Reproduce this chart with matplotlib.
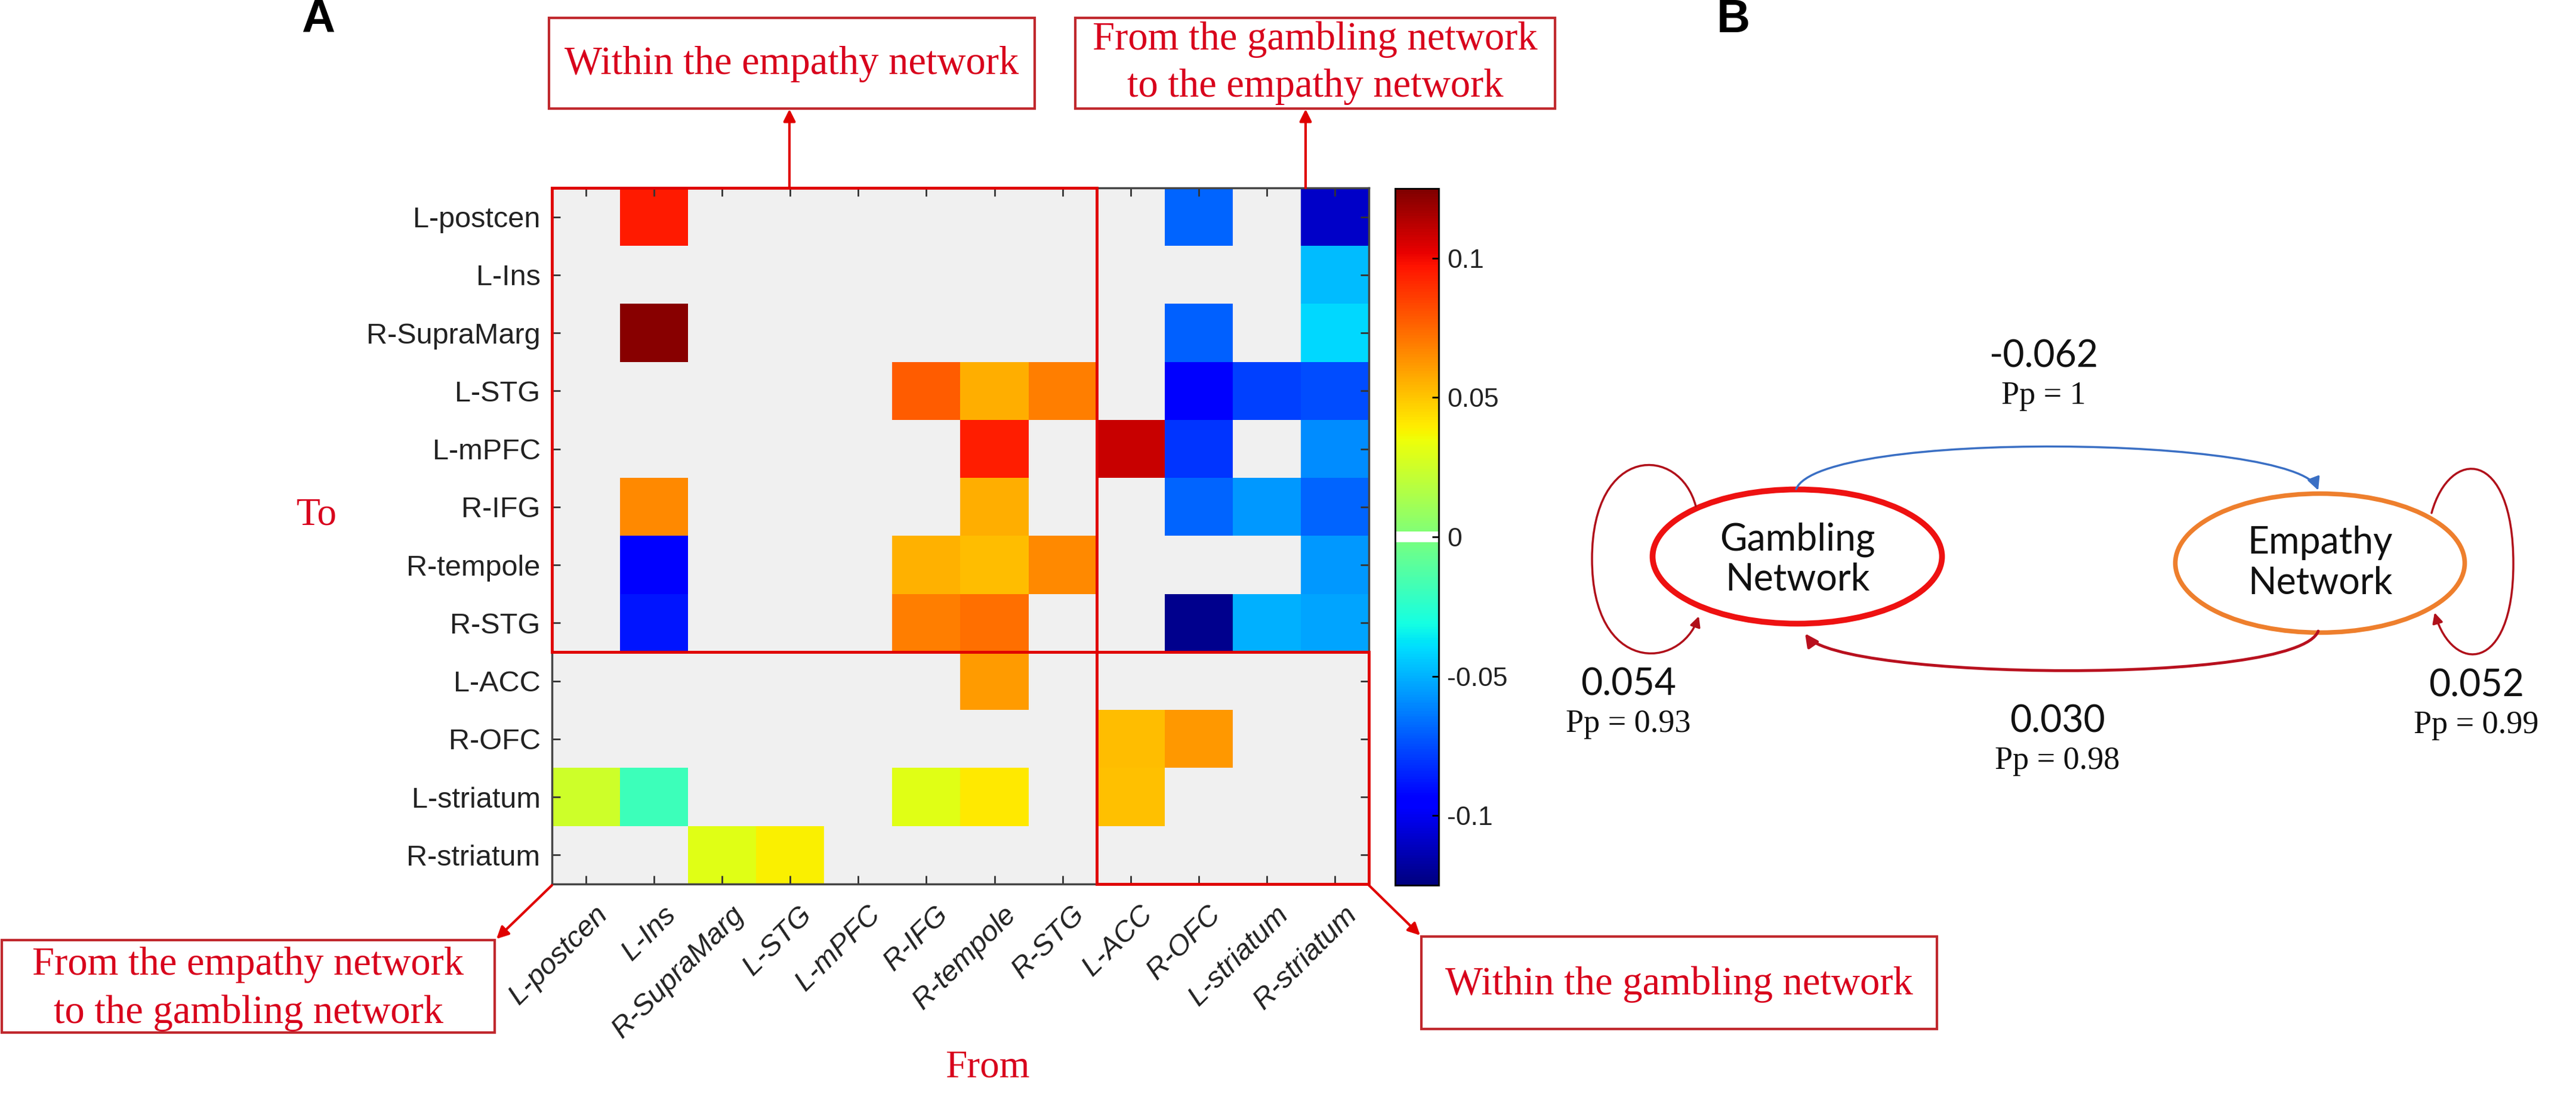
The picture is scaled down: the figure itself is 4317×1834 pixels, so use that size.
import numpy as np
import matplotlib
matplotlib.use("Agg")
import matplotlib.pyplot as plt
from matplotlib.colors import ListedColormap
from matplotlib.patches import Rectangle, Ellipse, FancyArrowPatch
from matplotlib.path import Path
from matplotlib.transforms import ScaledTranslation

# ---------------- data ----------------
regions = ["L-postcen", "L-Ins", "R-SupraMarg", "L-STG", "L-mPFC", "R-IFG",
           "R-tempole", "R-STG", "L-ACC", "R-OFC", "L-striatum", "R-striatum"]

# rows = "To", columns = "From"
row_L_postcen   = [0, 0.095, 0, 0, 0, 0, 0, 0, 0, -0.069, 0, -0.109]
row_L_Ins       = [0, 0, 0, 0, 0, 0, 0, 0, 0, 0, 0, -0.047]
row_R_SupraMarg = [0, 0.123, 0, 0, 0, 0, 0, 0, 0, -0.070, 0, -0.041]
row_L_STG       = [0, 0, 0, 0, 0, 0.078, 0.056, 0.069, 0, -0.097, -0.078, -0.075]
row_L_mPFC      = [0, 0, 0, 0, 0, 0, 0.094, 0, 0.109, -0.081, 0, -0.059]
row_R_IFG       = [0, 0.066, 0, 0, 0, 0, 0.056, 0, 0, -0.069, -0.056, -0.069]
row_R_tempole   = [0, -0.094, 0, 0, 0, 0.055, 0.052, 0.066, 0, 0, 0, -0.056]
row_R_STG       = [0, -0.088, 0, 0, 0, 0.069, 0.073, 0, 0, -0.122, -0.050, -0.053]
row_L_ACC       = [0, 0, 0, 0, 0, 0, 0.061, 0, 0, 0, 0, 0]
row_R_OFC       = [0, 0, 0, 0, 0, 0, 0, 0, 0.052, 0.062, 0, 0]
row_L_striatum  = [0.025, -0.019, 0, 0, 0, 0.031, 0.041, 0, 0.051, 0, 0, 0]
row_R_striatum  = [0, 0, 0.031, 0.039, 0, 0, 0, 0, 0, 0, 0, 0]

cbar_ticks = [-0.1, -0.05, 0, 0.05, 0.1]
cbar_labels = ["-0.1", "-0.05", "0", "0.05", "0.1"]

# panel B: network-level parameters
net_names = ["Gambling\nNetwork", "Empathy\nNetwork"]
self_conn = [0.054, 0.052]
self_pp = [0.93, 0.99]
g_to_e = -0.062
g_to_e_pp = 1
e_to_g = 0.030
e_to_g_pp = 0.98

M = np.array([row_L_postcen, row_L_Ins, row_R_SupraMarg, row_L_STG, row_L_mPFC,
              row_R_IFG, row_R_tempole, row_R_STG, row_L_ACC, row_R_OFC,
              row_L_striatum, row_R_striatum])

# ---------------- figure ----------------
W, H = 4317, 1834
fig = plt.figure(figsize=(W / 100, H / 100), dpi=100)
fig.patch.set_facecolor("white")


def fr(x0, y0, x1, y1):
    return [x0 / W, 1 - y1 / H, (x1 - x0) / W, (y1 - y0) / H]


SANS = "Liberation Sans"
SERIF = "Liberation Serif"
BSANS = "Lato"
RED_TXT = "#d8001c"
BOX_EC = "#c0282d"
RED_LN = "#e00000"

# colormap: jet with white at zero
base = plt.get_cmap("jet")(np.linspace(0, 1, 256))
base[126:130] = [1, 1, 1, 1]
cmap = ListedColormap(base)
cmap.set_bad("#f0f0f0")

ax = fig.add_axes(fr(925, 315, 2294, 1482))
im = ax.imshow(np.ma.masked_equal(M, 0), cmap=cmap, vmin=-0.125, vmax=0.125,
               aspect="auto", interpolation="nearest")
ax.set_xticks(range(len(regions)))
ax.set_yticks(range(len(regions)))
ax.set_xticklabels(regions, rotation=45, ha="right", va="center",
                   rotation_mode="anchor", fontsize=35, family=SANS,
                   style="italic", color="#222222")
ax.set_yticklabels(regions, fontsize=35, family=SANS, color="#222222")
ax.tick_params(axis="both", direction="in", length=10, width=2,
               top=True, right=True, color="#333333")
ax.tick_params(axis="y", pad=14)
ax.tick_params(axis="x", pad=32)
for lab in ax.get_xticklabels():
    lab.set_transform(lab.get_transform() +
                      ScaledTranslation(0.3, 0, fig.dpi_scale_trans))
for sp in ax.spines.values():
    sp.set_color("#444444")
    sp.set_linewidth(2.5)

ax.add_patch(Rectangle((-0.5, -0.5), 8, 8, fill=False, ec=RED_LN, lw=3.5,
                       clip_on=False, zorder=5))
ax.add_patch(Rectangle((7.5, 7.5), 4, 4, fill=False, ec=RED_LN, lw=3.5,
                       clip_on=False, zorder=5))

cax = fig.add_axes(fr(2338, 316, 2411, 1484))
cb = fig.colorbar(im, cax=cax, ticks=cbar_ticks)
cb.ax.set_yticklabels(cbar_labels, family=SANS, fontsize=32, color="#222222")
cb.ax.tick_params(direction="in", length=8, width=2, pad=10)
cb.outline.set_linewidth(2)

# ---------------- overlay ----------------
ov = fig.add_axes([0, 0, 1, 1], zorder=10)
ov.set_xlim(0, W)
ov.set_ylim(H, 0)
ov.axis("off")
ov.patch.set_alpha(0)

ov.text(533, 33, "A", fontsize=56, fontweight="bold", family=SANS,
        ha="center", va="center")
ov.text(2905, 34, "B", fontsize=56, fontweight="bold", family=SANS,
        ha="center", va="center")


def box(x0, y0, x1, y1, lines, ys):
    ov.add_patch(Rectangle((x0, y0), x1 - x0, y1 - y0, fill=False,
                           ec=BOX_EC, lw=3))
    for t, y in zip(lines, ys):
        ov.text((x0 + x1) / 2, y, t, fontsize=48, family=SERIF,
                color=RED_TXT, ha="center", va="center")


box(920, 30, 1734, 182, ["Within the empathy network"], [108])
box(1802, 30, 2606, 182, ["From the gambling network",
                          "to the empathy network"], [66, 146])
box(3, 1576, 829, 1731, ["From the empathy network",
                         "to the gambling network"], [1617, 1698])
box(2382, 1570, 3246, 1725, ["Within the gambling network"], [1650])

ov.text(531, 864, "To", fontsize=47, family=SERIF, color=RED_TXT,
        ha="center", va="center")
ov.text(1655, 1790, "From", fontsize=47, family=SERIF, color=RED_TXT,
        ha="center", va="center")


def arrow(p0, p1):
    ov.add_patch(FancyArrowPatch(p0, p1, arrowstyle="-|>", mutation_scale=30,
                                 color=RED_LN, lw=3, shrinkA=0, shrinkB=0))


arrow((1323, 315), (1323, 183))
arrow((2188, 315), (2188, 183))
arrow((925, 1484), (832, 1574))
arrow((2294, 1484), (2380, 1568))

# ---------------- panel B ----------------
ov.add_patch(Ellipse((3012, 933), 485, 225, fill=False, ec="#ee1111", lw=7))
ov.add_patch(Ellipse((3888, 944), 485, 233, fill=False, ec="#ee7f2d", lw=5.5))
ov.text(3012, 938, net_names[0], fontsize=45, family=BSANS, ha="center",
        va="center", linespacing=1.2, color="#111111")
ov.text(3888, 944, net_names[1], fontsize=45, family=BSANS, ha="center",
        va="center", linespacing=1.2, color="#111111")


def curve(pts, color, lw, ms=32):
    codes = [Path.MOVETO] + [Path.CURVE4] * (len(pts) - 1)
    ov.add_patch(FancyArrowPatch(path=Path(pts, codes), arrowstyle="-|>",
                                 mutation_scale=ms, color=color, lw=lw))


# gambling -> empathy (blue, top)
curve([(3010, 820), (3050, 720), (3850, 730), (3885, 822)], "#3a6fc4", 2.5)
# empathy -> gambling (dark red, bottom)
curve([(3885, 1058), (3850, 1150), (3080, 1140), (3025, 1062)], "#b8101e", 3.5)
# self loops
curve([(2842, 849), (2815, 745), (2668, 745), (2668, 937),
       (2668, 1130), (2815, 1125), (2847, 1033)], "#b0101a", 2.5, ms=26)
curve([(4075, 860), (4105, 750), (4212, 750), (4212, 945),
       (4212, 1130), (4110, 1130), (4080, 1027)], "#b0101a", 2.5, ms=26)


def fmt(v):
    return f"{v:.3f}"


def label(x, y, val, pp):
    ov.text(x, y, fmt(val), fontsize=45, family=BSANS, ha="center",
            va="center", color="#111111")
    ov.text(x, y + 66, f"Pp = {pp}", fontsize=39, family=SERIF, ha="center",
            va="center", color="#111111")


label(3425, 598, g_to_e, g_to_e_pp)
label(3448, 1210, e_to_g, e_to_g_pp)
label(2729, 1148, self_conn[0], self_pp[0])
label(4150, 1150, self_conn[1], self_pp[1])

fig.savefig("out.png", dpi=100, facecolor="white")
